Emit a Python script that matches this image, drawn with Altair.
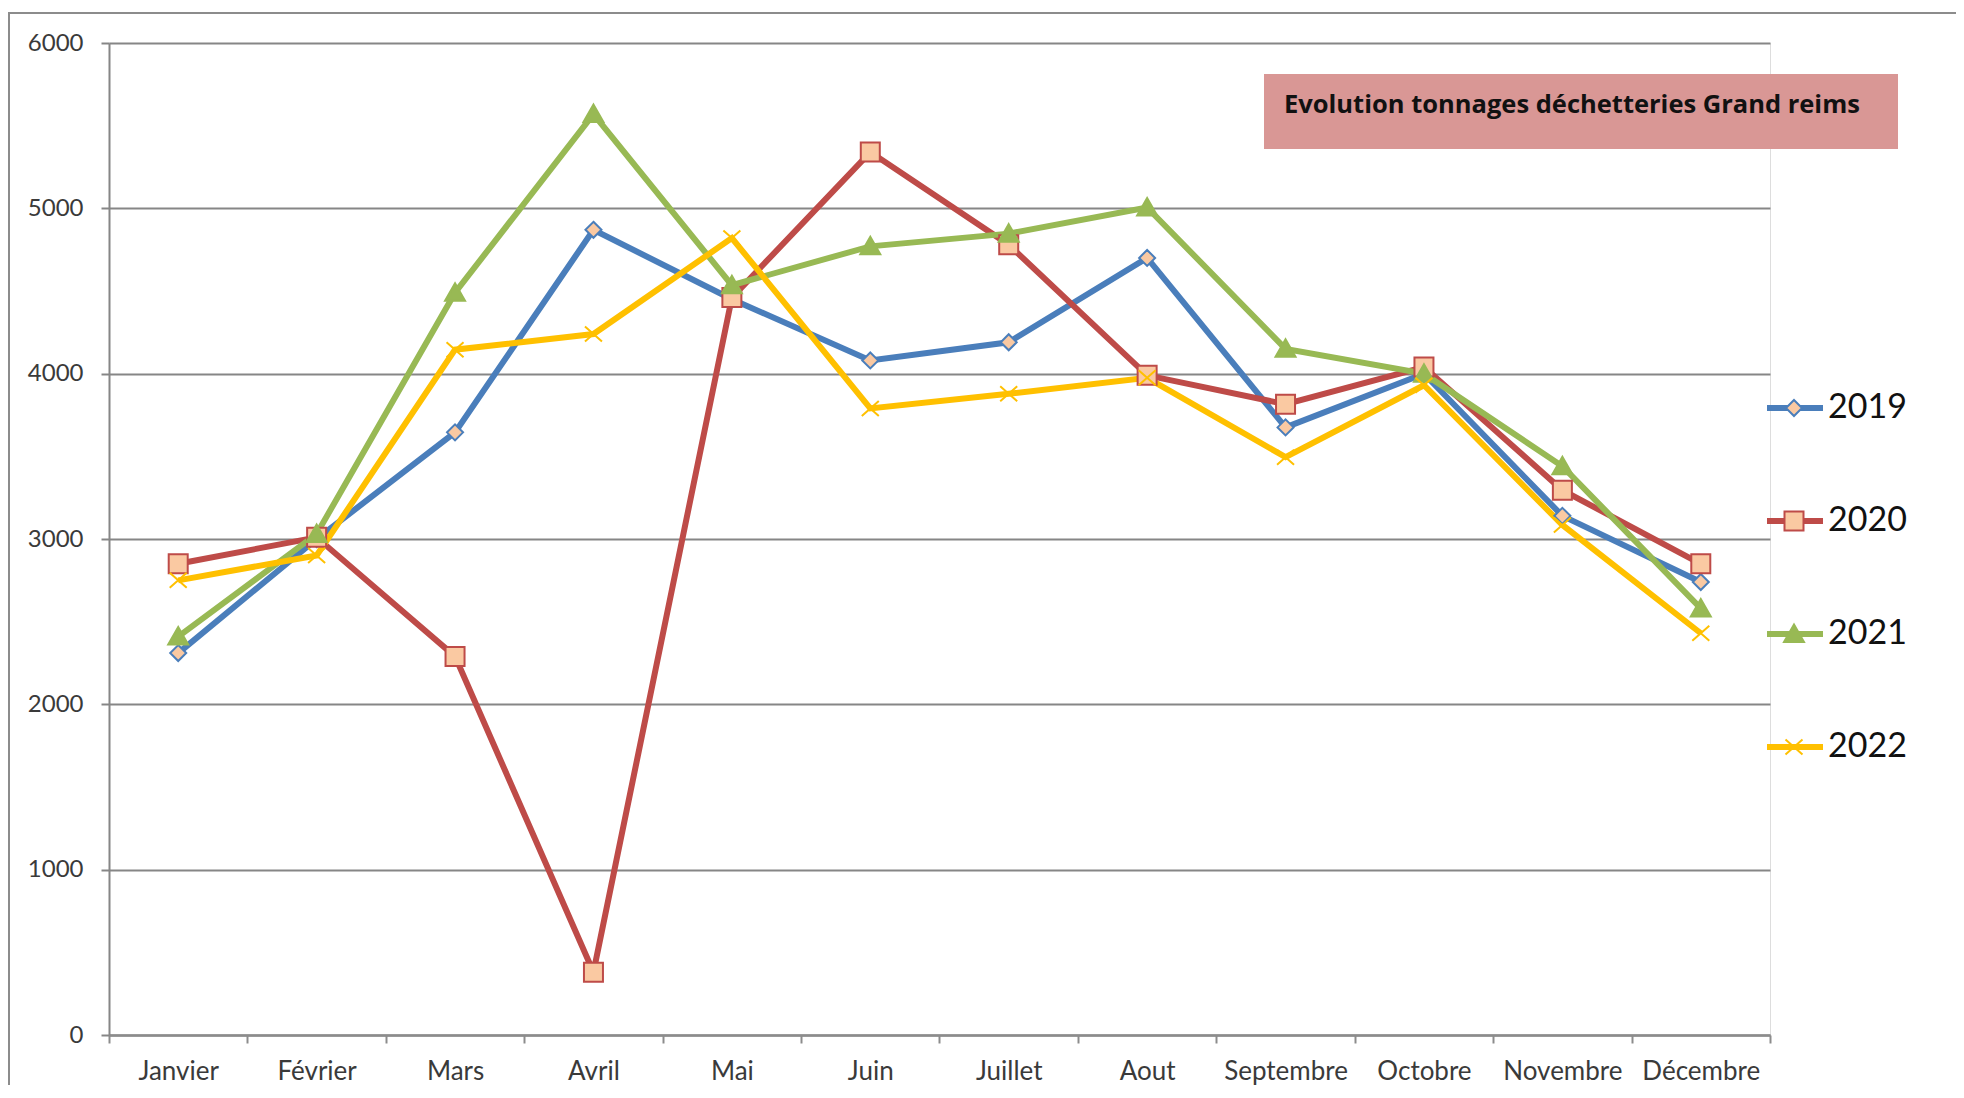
import altair as alt
import pandas as pd

months = ["Janvier", "Février", "Mars", "Avril", "Mai", "Juin", "Juillet",
          "Aout", "Septembre", "Octobre", "Novembre", "Décembre"]
years = ["2019", "2020", "2021", "2022"]
v2019 = [2310, 3000, 3645, 4870, 4450, 4080, 4190, 4700, 3675, 4000, 3140, 2740]
v2020 = [2850, 3010, 2290, 380, 4460, 5340, 4780, 3990, 3815, 4040, 3295, 2850]
v2021 = [2410, 3030, 4490, 5570, 4535, 4770, 4847, 5005, 4150, 4000, 3440, 2580]
v2022 = [2750, 2900, 4145, 4240, 4820, 3790, 3878, 3975, 3495, 3930, 3085, 2430]
y_ticks = [0, 1000, 2000, 3000, 4000, 5000, 6000]
title_text = "Evolution tonnages déchetteries Grand reims"

line_colors = ["#4A7EBB", "#BE4B48", "#98B954", "#FFC000"]
marker_fills = ["#FAC9A2", "#FAC9A2", "#98B954", "transparent"]
marker_paths = [
    "M0,-0.8L0.8,0L0,0.8L-0.8,0Z",
    "M-0.95,-0.95L0.95,-0.95L0.95,0.95L-0.95,0.95Z",
    "M0,-0.95L1,0.8L-1,0.8Z",
    "M-0.85,-0.75L0.85,0.75M-0.85,0.75L0.85,-0.75",
]

rows = []
for yr, vals in zip(years, [v2019, v2020, v2021, v2022]):
    for m, v in zip(months, vals):
        rows.append({"month": m, "year": yr, "serie": yr, "value": v})
df = pd.DataFrame(rows)

W, H = 1661, 992
FONT = "Lato"

x_enc = alt.X(
    "month:N", sort=months,
    scale=alt.Scale(type="band", paddingInner=0, paddingOuter=0),
    axis=alt.Axis(title=None, labelAngle=0, tickBand="extent", grid=False,
                  domainColor="#8c8c8c", domainWidth=2.5, tickColor="#8c8c8c",
                  tickWidth=2, tickSize=8, labelFont=FONT, labelFontSize=26,
                  labelColor="#3a3a3a", labelBaseline="middle", labelPadding=28),
)
y_enc = alt.Y(
    "value:Q",
    scale=alt.Scale(domain=[0, 6000], nice=False, zero=True),
    axis=alt.Axis(title=None, values=y_ticks, format="d", grid=True, gridColor="#868686",
                  gridWidth=2.2, domainColor="#868686", domainWidth=2,
                  tickColor="#868686", tickWidth=2, tickSize=8, labelFont=FONT,
                  labelFontSize=24, labelColor="#3a3a3a", labelPadding=18),
)

legend_common = dict(orient="none", title=None, clipHeight=44, rowPadding=69,
                     labelFont=FONT, labelFontSize=34, padding=0)

legend_lines = alt.Legend(legendX=1655, legendY=343, symbolType="stroke",
                          symbolSize=3136, symbolStrokeWidth=6,
                          labelColor="transparent", **legend_common)
legend_marks = alt.Legend(legendX=1668, legendY=343, labelOffset=17,
                          symbolStrokeWidth=2, symbolSize=400,
                          labelColor="#111111", symbolOpacity=1, **legend_common)

base = alt.Chart(df)

lines = base.mark_line(strokeWidth=6).encode(
    x=x_enc, y=y_enc,
    color=alt.Color("year:N", scale=alt.Scale(domain=years, range=line_colors),
                    legend=legend_lines),
)

points = base.mark_point(size=400, strokeWidth=2, opacity=1, fillOpacity=1).encode(
    x=x_enc, y=y_enc,
    shape=alt.Shape("serie:N", scale=alt.Scale(range=marker_paths), legend=legend_marks),
    stroke=alt.Stroke("serie:N", scale=alt.Scale(range=line_colors), legend=legend_marks),
    fill=alt.Fill("serie:N", scale=alt.Scale(range=marker_fills), legend=legend_marks),
)

title_df = pd.DataFrame({"t": [title_text]})
title_box = alt.Chart(title_df).mark_rect(color="#D99795").encode(
    x=alt.value(1155), x2=alt.value(1789), y=alt.value(31), y2=alt.value(106)
)
title_label = alt.Chart(title_df).mark_text(
    font="Open Sans", fontWeight="bold", fontSize=25.5, color="#111111",
    align="left", baseline="middle"
).encode(x=alt.value(1175), y=alt.value(62), text="t:N")

frame = alt.Chart(title_df).mark_rect(
    fill="transparent", stroke="#8c8c8c", strokeWidth=2
).encode(x=alt.value(-100), x2=alt.value(W + 300), y=alt.value(-30), y2=alt.value(H + 200))

chart = alt.layer(frame, lines, points, title_box, title_label).resolve_scale(
    color="independent", shape="independent", stroke="independent", fill="independent"
).properties(
    width=W, height=H,
    autosize=alt.AutoSizeParams(type="none"),
    padding={"left": 101, "top": 35, "right": 186, "bottom": 50},
).configure_view(stroke=None).configure(background="white")

chart.save("out.html", embed_options={"renderer": "svg", "actions": False})
